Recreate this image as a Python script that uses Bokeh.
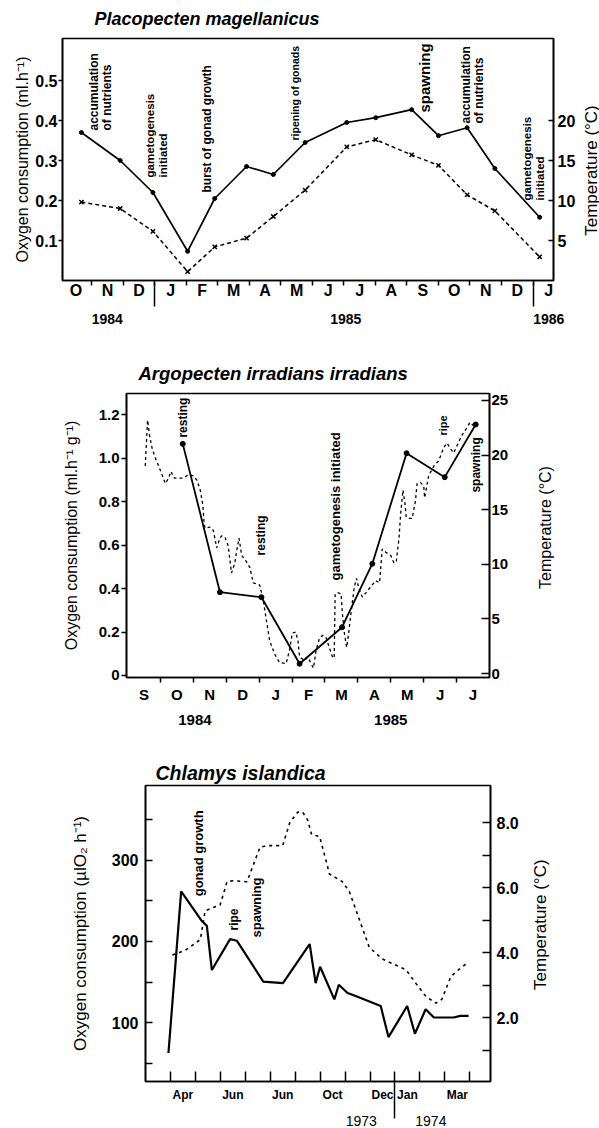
import math
from bokeh.plotting import figure
from bokeh.models import Range1d, LinearAxis, FixedTicker, Title, ColumnDataSource
from bokeh.layouts import row
from bokeh.embed import file_html
from bokeh.resources import INLINE
from bokeh.core.properties import value

FONT = "Liberation Sans"
UP = math.pi / 2

# ---------------- Placopecten magellanicus (Oct 1984 - Jan 1986) ----------------
plac_months = ["O", "N", "D", "J", "F", "M", "A", "M", "J", "J", "A", "S", "O", "N", "D", "J"]
plac_years = ["1984", "1985", "1986"]
plac_year_pos = [1.49, 9.06, 15.5]
plac_year_breaks = [3, 15]
plac_sample = [0.67, 1.90, 2.94, 4.04, 4.90, 5.91, 6.76, 7.77, 9.09, 10.01, 11.15, 12.00, 12.91, 13.79, 15.21]
plac_oxygen = [0.37, 0.30, 0.22, 0.073, 0.205, 0.285, 0.265, 0.345, 0.395, 0.407, 0.427, 0.362, 0.382, 0.28, 0.158]
plac_temp = [9.8, 9.0, 6.15, 1.1, 4.2, 5.3, 8.0, 11.3, 16.7, 17.6, 15.7, 14.4, 10.7, 8.7, 2.95]
plac_notes = ["accumulation", "of nutrients", "gametogenesis", "initiated", "burst of gonad growth",
              "ripening of gonads", "spawning", "accumulation", "of nutrients", "gametogenesis", "initiated"]
plac_note_x = [1.06, 1.47, 2.86, 3.27, 4.64, 7.45, 11.55, 12.86, 13.28, 14.81, 15.22]
plac_note_y = [0.375, 0.375, 0.2575, 0.2575, 0.22, 0.35, 0.42, 0.3925, 0.3925, 0.20, 0.20]
plac_note_size = ["12px", "12px", "11.5px", "11.5px", "12px", "10.5px", "15px", "12px", "12px", "11.5px", "11.5px"]

# ---------------- Argopecten irradians irradians (Sep 1984 - Jul 1985) ----------------
argo_months = ["S", "O", "N", "D", "J", "F", "M", "A", "M", "J", "J"]
argo_years = ["1984", "1985"]
argo_year_pos = [2.05, 8.0]
argo_sample = [1.68, 2.81, 4.07, 5.23, 6.52, 7.44, 8.48, 9.64, 10.58]
argo_oxygen = [1.065, 0.383, 0.36, 0.054, 0.222, 0.514, 1.022, 0.912, 1.154]
argo_temp_day = [0.54, 0.61, 0.67, 0.75, 0.85, 1.00, 1.15, 1.25, 1.32, 1.42, 1.55, 1.70, 1.85, 2.00,
                 2.11, 2.21, 2.29, 2.33, 2.36, 2.51, 2.61, 2.71, 2.81, 2.86, 2.96, 3.06, 3.16, 3.26,
                 3.31, 3.39, 3.47, 3.56, 3.72, 3.82, 3.92, 4.02, 4.07, 4.14, 4.22, 4.32, 4.47, 4.62,
                 4.82, 4.92, 5.01, 5.11, 5.18, 5.23, 5.38, 5.48, 5.58, 5.65, 5.73, 5.83, 5.93, 6.03,
                 6.13, 6.23, 6.28, 6.31, 6.38, 6.49, 6.53, 6.59, 6.66, 6.72, 6.79, 6.89, 6.96, 7.02,
                 7.09, 7.14, 7.54, 7.66, 7.74, 7.85, 8.00, 8.10, 8.17, 8.25, 8.30, 8.37, 8.43, 8.47,
                 8.57, 8.65, 8.75, 8.80, 8.90, 9.00, 9.03, 9.15, 9.31, 9.46, 9.61, 9.71, 9.81, 9.91,
                 10.16, 10.31, 10.41, 10.51]
argo_temp = [19.0, 23.2, 21.8, 20.6, 19.7, 18.6, 17.4, 17.9, 18.5, 17.9, 17.9, 17.9, 18.2, 18.1,
             17.7, 16.8, 15.4, 13.7, 13.3, 13.4, 13.1, 11.5, 12.4, 12.6, 12.5, 11.7, 9.2, 10.1,
             11.1, 12.4, 10.8, 10.5, 9.7, 8.3, 8.2, 8.1, 7.4, 6.4, 4.9, 3.0, 1.8, 1.0,
             0.9, 2.1, 3.7, 3.8, 3.0, 1.5, 1.2, 1.5, 0.9, 0.5, 2.1, 3.2, 3.5, 3.3,
             2.4, 1.5, 1.4, 7.3, 7.4, 7.3, 5.5, 3.7, 2.4, 3.7, 5.5, 7.9, 8.7, 7.9,
             7.3, 7.0, 8.5, 8.3, 11.4, 11.1, 10.8, 10.1, 10.3, 12.4, 14.6, 16.8, 15.6, 14.3,
             14.2, 14.2, 15.8, 17.4, 17.5, 17.2, 16.1, 18.1, 19.0, 19.5, 20.7, 21.1, 20.6, 20.2,
             21.8, 22.5, 23.0, 22.7]
argo_notes = ["resting", "resting", "gametogenesis initiated", "ripe", "spawning"]
argo_note_x = [1.69, 4.05, 6.31, 9.58, 10.60]
argo_note_y = [1.094, 0.552, 0.437, 1.103, 0.841]
argo_note_size = ["12px", "12px", "13px", "11px", "12px"]

# ---------------- Chlamys islandica (Apr 1973 - Mar 1974) ----------------
chla_month_pos = [0.5, 2.5, 4.5, 6.5, 8.5, 9.5, 11.5]
chla_months = ["Apr", "Jun", "Jun", "Oct", "Dec", "Jan", "Mar"]
chla_years = ["1973", "1974"]
chla_year_pos = [7.65, 10.44]
chla_year_breaks = [9]
chla_oxy_day = [-0.08, 0.43, 1.26, 1.46, 1.66, 2.39, 2.66, 3.72, 4.51, 5.58, 5.82, 6.00, 6.57,
                6.75, 7.10, 7.45, 8.43, 8.74, 9.49, 9.80, 10.23, 10.56, 11.35, 11.62, 11.95]
chla_oxygen = [62.7, 261.4, 225, 219, 164.7, 202.8, 200.8, 150.6, 148.6, 196.7, 148.6, 168.7, 128.6,
               146.6, 136.5, 132.5, 120.5, 82.3, 120.5, 86.4, 116.5, 106.4, 106.4, 108.4, 108.4]
chla_temp_day = [0.08, 0.60, 1.20, 1.39, 1.67, 1.99, 2.27, 2.51, 3.07, 3.59, 3.86, 4.50, 4.78, 5.10,
                 5.30, 5.50, 5.66, 5.98, 6.25, 6.37, 6.89, 7.17, 7.97, 8.49, 9.44, 9.84, 10.24,
                 10.64, 10.88, 11.24, 11.55, 11.95]
chla_temp = [3.93, 4.08, 4.41, 5.29, 5.38, 5.47, 6.19, 6.22, 6.19, 7.25, 7.30, 7.30, 8.00, 8.33,
             8.33, 8.09, 7.64, 7.58, 6.80, 6.43, 6.19, 5.89, 4.17, 3.81, 3.48, 3.06, 2.66,
             2.45, 2.57, 3.27, 3.48, 3.72]
chla_notes = ["gonad growth", "ripe", "spawning"]
chla_note_x = [1.12, 2.55, 3.43]
chla_note_y = [255.4, 213.3, 204.8]
chla_note_size = ["13px", "12px", "13px"]

TEMP_LABEL = "Temperature (\u00b0C)"


def base_fig(w, h, left, right, top, bottom, xr, yr, tr,
             title, title_size, title_offset, title_standoff, title_valign="bottom"):
    p = figure(width=w, height=h, x_range=Range1d(*xr), y_range=Range1d(*yr),
               x_axis_type=None, y_axis_type=None, output_backend="svg",
               toolbar_location=None, min_border_left=left, min_border_right=right,
               min_border_top=top, min_border_bottom=bottom)
    p.extra_y_ranges = {"temp": Range1d(*tr)}
    p.outline_line_color = "black"
    p.outline_line_width = 1.6
    p.outline_line_alpha = 1.0
    p.background_fill_color = "white"
    p.border_fill_color = "white"
    p.title = Title(text=title, align="left", offset=title_offset, standoff=title_standoff,
                    vertical_align=title_valign, text_font=FONT, text_font_size=title_size,
                    text_font_style="bold italic", text_color="black")
    return p


def add_axis(p, side, ticks, labels, minor=(), size="15px", style="bold",
             tin=0, tout=0, mtin=0, mtout=0, standoff=3, rname="default",
             label=None, label_size="16px", label_standoff=5):
    if side in ("left", "right"):
        ax = LinearAxis(y_range_name=rname)
    else:
        ax = LinearAxis()
    ax.ticker = FixedTicker(ticks=list(ticks), minor_ticks=list(minor))
    ax.major_label_overrides = {t: l for t, l in zip(ticks, labels)}
    ax.axis_line_color = "black"
    ax.axis_line_width = 1.6
    ax.major_tick_in = tin
    ax.major_tick_out = tout
    ax.minor_tick_in = mtin
    ax.minor_tick_out = mtout
    ax.major_tick_line_width = 1.5
    ax.minor_tick_line_width = 1.5
    ax.major_tick_line_color = "black" if (tin or tout) else None
    ax.minor_tick_line_color = "black"
    ax.major_label_text_font = FONT
    ax.major_label_text_font_size = size
    ax.major_label_text_font_style = style
    ax.major_label_text_color = "black"
    ax.major_label_standoff = standoff
    if label:
        ax.axis_label = label
        ax.axis_label_text_font = FONT
        ax.axis_label_text_font_size = label_size
        ax.axis_label_text_font_style = "normal"
        ax.axis_label_text_color = "black"
        ax.axis_label_standoff = label_standoff
    p.add_layout(ax, side)
    return ax


def year_row(p, pos, years, breaks, size, style, standoff, brk_in, brk_out):
    # second row under the month letters: year names plus the year-break strokes
    ax = LinearAxis()
    ax.ticker = FixedTicker(ticks=list(pos), minor_ticks=list(breaks))
    ax.major_label_overrides = {t: l for t, l in zip(pos, years)}
    ax.axis_line_color = None
    ax.major_tick_line_color = None
    ax.minor_tick_line_color = "black"
    ax.minor_tick_line_width = 1.5
    ax.minor_tick_in = brk_in
    ax.minor_tick_out = brk_out
    ax.major_label_text_font = FONT
    ax.major_label_text_font_size = size
    ax.major_label_text_font_style = style
    ax.major_label_text_color = "black"
    ax.major_label_standoff = standoff
    p.add_layout(ax, "below")


def side_label(x0, x1, h, top, bottom, text, x, y, size):
    # narrow strip right of a panel holding the upward-reading temperature caption;
    # coordinates are page pixels (y measured downward from the strip's top)
    q = figure(width=x1 - x0, height=h, x_range=Range1d(x0, x1), y_range=Range1d(h - bottom, top),
               x_axis_type=None, y_axis_type=None, output_backend="svg", toolbar_location=None,
               min_border_left=0, min_border_right=0, min_border_top=top, min_border_bottom=bottom)
    q.outline_line_color = None
    q.background_fill_color = "white"
    q.border_fill_color = "white"
    q.text(x=[x], y=[y], text=[text], angle=UP, text_align="center", text_baseline="middle",
           text_font=value(FONT), text_font_size=size, text_color="black")
    return q


def notes(p, xs, ys, texts, sizes):
    src = ColumnDataSource(dict(x=xs, y=ys, text=texts, size=sizes))
    p.text(x="x", y="y", text="text", source=src, angle=UP, text_align="left",
           text_baseline="middle", text_font=value(FONT), text_font_size="size",
           text_font_style="bold", text_color="black")


# ---------------- panel 1 ----------------
p1 = base_fig(578, 340, 62, 22, 38, 60, (0.07, 15.65), (0.0, 0.605), (0.0, 30.25),
              "Placopecten magellanicus", "18px", 32, 15, "top")
add_axis(p1, "left", [0.1, 0.2, 0.3, 0.4, 0.5], ["0.1", "0.2", "0.3", "0.4", "0.5"],
         size="16px", tout=4, standoff=1,
         label="Oxygen consumption (ml.h\u207b\u00b9)", label_standoff=1)
add_axis(p1, "right", [5, 10, 15, 20], ["5", "10", "15", "20"], size="16px",
         tin=5, standoff=4, rname="temp")
add_axis(p1, "below", [i + 0.5 for i in range(len(plac_months))], plac_months,
         minor=range(1, 16), size="16px", mtout=5, standoff=-4)
year_row(p1, plac_year_pos, plac_years, plac_year_breaks, "14px", "bold", 6, 19, 5)
p1.line(plac_sample, plac_temp, y_range_name="temp", line_color="black",
        line_width=1.5, line_dash="4 3")
p1.scatter(plac_sample, plac_temp, y_range_name="temp", marker="x", size=6,
           line_color="black", line_width=1.5)
p1.line(plac_sample, plac_oxygen, line_color="black", line_width=1.7)
p1.scatter(plac_sample, plac_oxygen, marker="circle", size=4, color="black")
notes(p1, plac_note_x, plac_note_y, plac_notes, plac_note_size)
q1 = side_label(578, 599, 340, 38, 60, TEMP_LABEL, 590.5, 170, "17px")

# ---------------- panel 2 ----------------
p2 = base_fig(511, 400, 126, 20, 53, 63, (-0.03, 11.0), (-0.0092, 1.2966), (-0.366, 25.64),
              "Argopecten irradians irradians", "18.5px", 12, 19)
add_axis(p2, "left", [0, 0.2, 0.4, 0.6, 0.8, 1.0, 1.2],
         ["0", "0.2", "0.4", "0.6", "0.8", "1.0", "1.2"], size="15px", tout=5, standoff=2,
         label="Oxygen consumption (ml.h\u207b\u00b9 g\u207b\u00b9)", label_standoff=16)
add_axis(p2, "right", [0, 5, 10, 15, 20, 25], ["0", "5", "10", "15", "20", "25"],
         size="15px", tin=8, standoff=2, rname="temp")
add_axis(p2, "below", [i + 0.5 for i in range(len(argo_months))], argo_months,
         minor=range(1, 11), size="15px", mtout=5, standoff=3)
year_row(p2, argo_year_pos, argo_years, [], "15px", "bold", 3, 0, 0)
p2.line(argo_temp_day, argo_temp, y_range_name="temp", line_color="black",
        line_width=1.3, line_dash="3 3")
p2.line(argo_sample, argo_oxygen, line_color="black", line_width=1.8)
p2.scatter(argo_sample, argo_oxygen, marker="circle", size=5, color="black")
notes(p2, argo_note_x, argo_note_y, argo_notes, argo_note_size)
q2 = side_label(511, 599, 400, 53, 63, TEMP_LABEL, 545, 187, "16px")

# ---------------- panel 3 ----------------
p3 = base_fig(521, 388, 145, 29, 45, 41, (-1.0, 12.83), (27.7, 391.6), (0.04, 9.15),
              "Chlamys islandica", "19.5px", 10, 3)
add_axis(p3, "left", [100, 200, 300], ["100", "200", "300"], minor=[50, 150, 250, 350],
         size="16px", style="bold", tin=7, mtin=7, standoff=7,
         label="Oxygen consumption (\u00b5lO\u2082 h\u207b\u00b9)", label_size="17px",
         label_standoff=19)
add_axis(p3, "right", [2, 4, 6, 8], ["2.0", "4.0", "6.0", "8.0"], minor=[1, 3, 5, 7],
         size="16px", style="bold", tin=8, mtin=8, standoff=6, rname="temp")
add_axis(p3, "below", chla_month_pos, chla_months, minor=range(0, 13), size="12px",
         mtin=10, standoff=6)
year_row(p3, chla_year_pos, chla_years, chla_year_breaks, "14px", "normal", -3, 24, 14)
p3.line(chla_temp_day, chla_temp, y_range_name="temp", line_color="black",
        line_width=1.6, line_dash="3 4")
p3.line(chla_oxy_day, chla_oxygen, line_color="black", line_width=2.2)
notes(p3, chla_note_x, chla_note_y, chla_notes, chla_note_size)
q3 = side_label(521, 599, 388, 45, 41, TEMP_LABEL, 540, 187, "17px")

# three independent roots, stacked top to bottom, so each keeps its own frame
roots = [row(p1, q1, spacing=0), row(p2, q2, spacing=0), row(p3, q3, spacing=0)]
open("out.html", "w").write(file_html(roots, INLINE))
